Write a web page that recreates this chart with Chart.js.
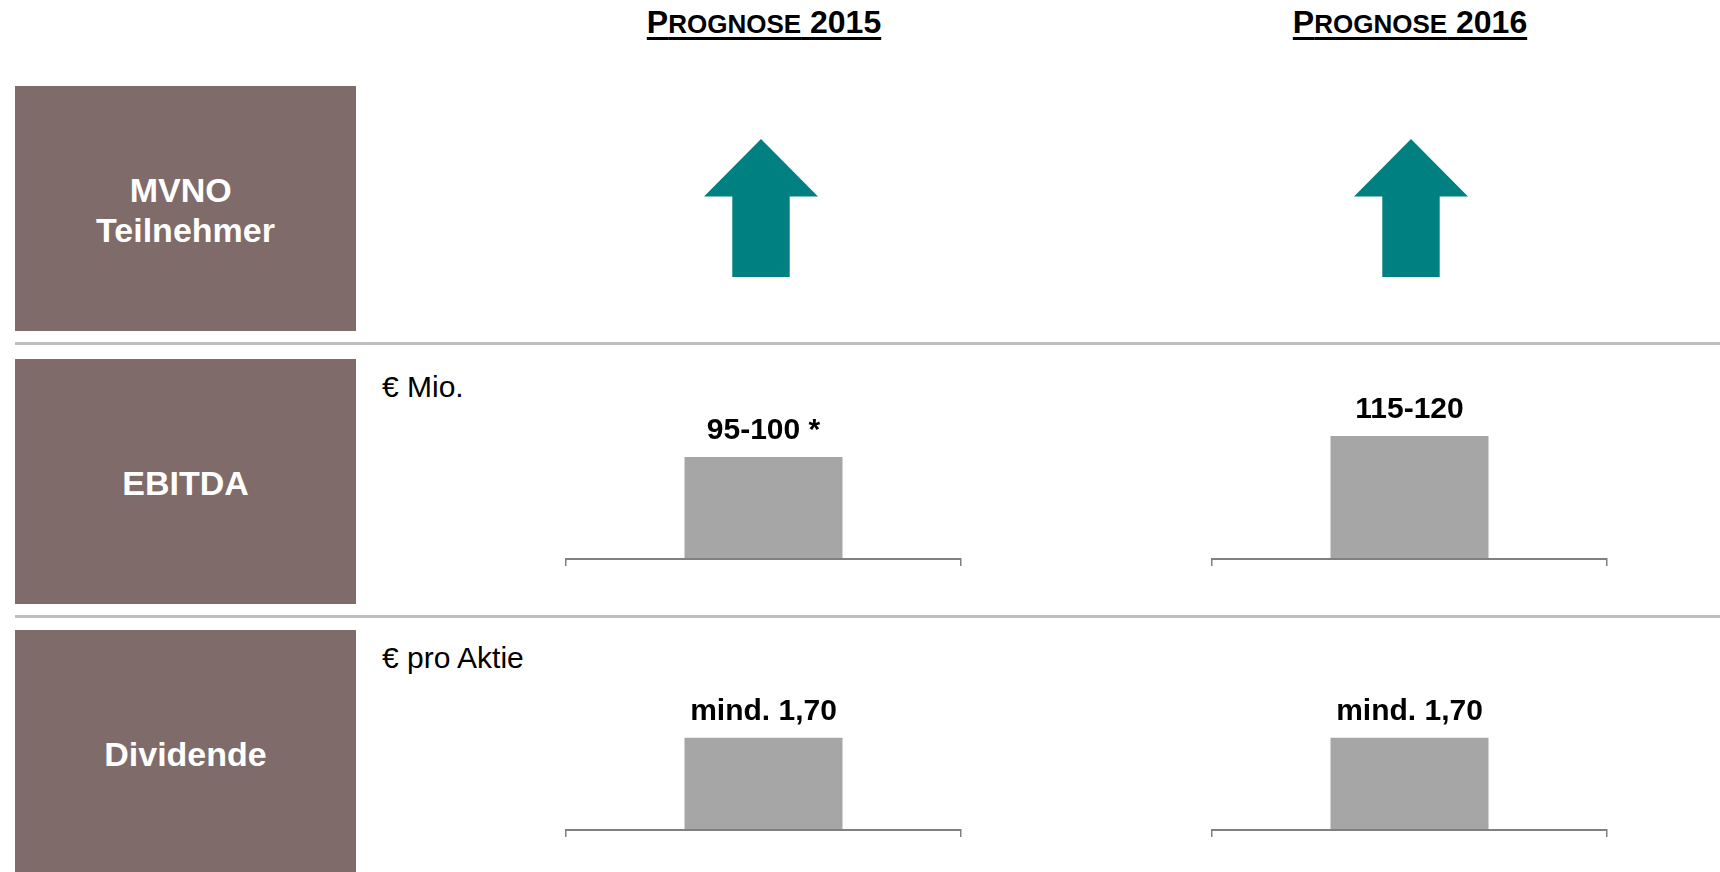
<!DOCTYPE html>
<html lang="de">
<head>
<meta charset="utf-8">
<title>Prognose 2015 / 2016</title>
<script src="https://cdn.jsdelivr.net/npm/chart.js@4.4.0/dist/chart.umd.min.js"></script>
<style>
  html, body { margin: 0; padding: 0; background: #fff; }
  body {
    width: 1720px; height: 872px; position: relative; overflow: hidden;
    font-family: Arial, "Liberation Sans", Helvetica, sans-serif; color: #000;
  }
  .title {
    position: absolute; top: 6px; width: 400px; margin-left: -200px;
    text-align: center; font-weight: bold; font-size: 32px; line-height: 32px;
  }
  .title .u { text-decoration: underline; text-decoration-thickness: 3px; text-underline-offset: 4px; }
  .title .sc { font-size: 26px; }
  .row-box {
    position: absolute; left: 15px; width: 341px; height: 245px; box-sizing: border-box;
    padding-top: 3px; background: #7f6b6a; color: #fff;
    font-weight: bold; font-size: 34px; line-height: 40px; white-space: pre-line;
    display: flex; flex-direction: column; justify-content: center; align-items: center; text-align: center;
  }
  .sep { position: absolute; left: 15px; right: 0; height: 3px; background: #bfbfbf; }
  .unit { position: absolute; left: 382px; font-size: 30px; line-height: 30px; white-space: nowrap; }
  .cell { position: absolute; }
  .cell canvas { display: block; }
</style>
</head>
<body>
<script>
// ── Daten ──
const years = ['Prognose 2015', 'Prognose 2016'];
const rowLabels = ['MVNO\u00a0\nTeilnehmer', 'EBITDA', 'Dividende'];
const unitLabels = ['', '€ Mio.', '€ pro Aktie'];
const mvnoTrend = [1, 1];               // 1 = steigend (Pfeil nach oben)
const ebitdaValues = [97.5, 117.5];     // Balkenhöhe = Mitte der Spanne
const ebitdaLabels = ['95-100 *', '115-120'];
const dividendValues = [1.70, 1.70];
const dividendLabels = ['mind. 1,70', 'mind. 1,70'];

// ── Layout ──
const TITLE_X = [764, 1410];
const ARROW_X = [761, 1411];
const ARROW_CY = 208;
const AXIS_LEFT = [566, 1212];
const AXIS_WIDTH = 395;
const ROW_TOP = [86, 359, 630];
const UNIT_TOP = [0, 372, 643];
const SEP_Y = [342, 615];
const TEAL = '#008080';
const BAR_GREY = '#a6a6a6';
const AXIS_GREY = '#808080';
const FONT = 'Arial, "Liberation Sans", Helvetica, sans-serif';

// ── Statische Elemente ──
function smallCapsHtml(text) {
  return text.split(' ').map(word => {
    if (/^\d+$/.test(word)) return word;
    return word[0].toUpperCase() + '<span class="sc">' + word.slice(1).toUpperCase() + '</span>';
  }).join(' ');
}

years.forEach((y, i) => {
  const el = document.createElement('div');
  el.className = 'title';
  el.style.left = TITLE_X[i] + 'px';
  el.innerHTML = '<span class="u">' + smallCapsHtml(y) + '</span>';
  document.body.appendChild(el);
});

rowLabels.forEach((label, i) => {
  const box = document.createElement('div');
  box.className = 'row-box';
  box.style.top = ROW_TOP[i] + 'px';
  box.textContent = label;
  document.body.appendChild(box);

  if (unitLabels[i]) {
    const u = document.createElement('div');
    u.className = 'unit';
    u.style.top = UNIT_TOP[i] + 'px';
    u.textContent = unitLabels[i];
    document.body.appendChild(u);
  }
});

SEP_Y.forEach(y => {
  const s = document.createElement('div');
  s.className = 'sep';
  s.style.top = y + 'px';
  document.body.appendChild(s);
});

// ── Pfeil als Punktstil ──
const arrowImg = document.createElement('canvas');
arrowImg.width = 114;
arrowImg.height = 138;
(function drawArrow() {
  const c = arrowImg.getContext('2d');
  c.fillStyle = TEAL;
  c.beginPath();
  c.moveTo(57, 0);
  c.lineTo(114, 57.5);
  c.lineTo(85.7, 57.5);
  c.lineTo(85.7, 138);
  c.lineTo(28.3, 138);
  c.lineTo(28.3, 57.5);
  c.lineTo(0, 57.5);
  c.closePath();
  c.fill();
})();

// ── Beschriftung über den Balken ──
const barLabelPlugin = {
  id: 'barLabel',
  afterDatasetsDraw(chart, args, opts) {
    const { ctx } = chart;
    const meta = chart.getDatasetMeta(0);
    ctx.save();
    ctx.font = 'bold 30px ' + FONT;
    ctx.fillStyle = '#000';
    ctx.textAlign = 'center';
    ctx.textBaseline = 'alphabetic';
    meta.data.forEach((bar, i) => {
      ctx.fillText(opts.labels[i], bar.x, bar.y - 18);
    });
    ctx.restore();
  }
};

function addCanvas(left, top, w, h) {
  const wrap = document.createElement('div');
  wrap.className = 'cell';
  wrap.style.left = left + 'px';
  wrap.style.top = top + 'px';
  const canvas = document.createElement('canvas');
  canvas.width = w;
  canvas.height = h;
  canvas.style.width = w + 'px';
  canvas.style.height = h + 'px';
  wrap.appendChild(canvas);
  document.body.appendChild(wrap);
  return canvas;
}

function makeArrowChart(col, value) {
  const canvas = addCanvas(ARROW_X[col] - 100, ARROW_CY - 100, 200, 200);
  new Chart(canvas, {
    type: 'line',
    data: {
      labels: [years[col]],
      datasets: [{
        data: [value],
        showLine: false,
        pointStyle: arrowImg,
        pointRadius: 3,
        rotation: value > 0 ? 0 : 180
      }]
    },
    options: {
      responsive: false,
      animation: false,
      devicePixelRatio: 1,
      events: [],
      layout: { padding: 0 },
      plugins: { legend: { display: false }, tooltip: { enabled: false } },
      scales: {
        x: { display: false, offset: true },
        y: { display: false, min: 0, max: 2 }
      }
    }
  });
}

function makeBarChart(col, top, plotHeight, yMax, value, label) {
  const canvas = addCanvas(AXIS_LEFT[col] - 2, top, AXIS_WIDTH + 4, plotHeight + 7 + 2);
  new Chart(canvas, {
    type: 'bar',
    data: {
      labels: [years[col]],
      datasets: [{
        data: [value],
        backgroundColor: BAR_GREY,
        borderWidth: 0,
        barPercentage: 0.4,
        categoryPercentage: 1
      }]
    },
    options: {
      responsive: false,
      animation: false,
      devicePixelRatio: 1,
      events: [],
      layout: { padding: { left: 2, right: 2, top: 0, bottom: 2 } },
      plugins: {
        legend: { display: false },
        tooltip: { enabled: false },
        barLabel: { labels: [label] }
      },
      scales: {
        x: {
          offset: true,
          grid: {
            display: true, offset: true, drawOnChartArea: false, drawTicks: true,
            tickLength: 7, color: AXIS_GREY, lineWidth: 1.5
          },
          border: { display: true, color: AXIS_GREY, width: 2, z: 1 },
          ticks: { display: false }
        },
        y: { display: false, min: 0, max: yMax }
      }
    },
    plugins: [barLabelPlugin]
  });
}

// ── Charts ──
mvnoTrend.forEach((v, i) => makeArrowChart(i, v));
ebitdaValues.forEach((v, i) => makeBarChart(i, 381, 178, 170, v, ebitdaLabels[i]));
dividendValues.forEach((v, i) => makeBarChart(i, 678, 152, 2.8, v, dividendLabels[i]));
</script>
</body>
</html>
